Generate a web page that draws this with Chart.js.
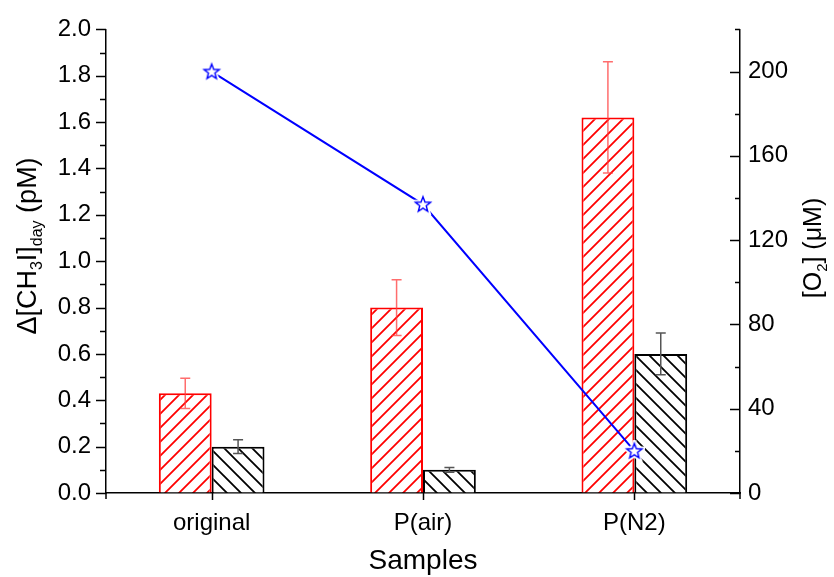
<!DOCTYPE html>
<html>
<head>
<meta charset="utf-8">
<script src="https://cdn.jsdelivr.net/npm/chart.js@4/dist/chart.umd.min.js"></script>
<style>
    html, body { margin: 0; padding: 0; background: #fff; }
    #wrap { width: 834px; height: 577px; position: relative; }
</style>
</head>
<body>
<div id="wrap"><canvas id="chart"></canvas></div>
<script>
// Data
const samples = ['original', 'P(air)', 'P(N2)'];
const ch3iRed = [0.43, 0.80, 1.62];
const ch3iRedErr = [0.065, 0.12, 0.24];
const ch3iBlack = [0.20, 0.10, 0.60];
const ch3iBlackErr = [0.03, 0.01, 0.09];
const o2Values = [200, 137, 20];

const FONT = '"Liberation Sans", Arial, sans-serif';

/**
 * Diagonal hatch pattern for the bars
 */
function makeHatch(color, forward) {
    const size = 14;
    const c = document.createElement('canvas');
    c.width = size;
    c.height = size;
    const g = c.getContext('2d');
    g.fillStyle = '#fff';
    g.fillRect(0, 0, size, size);
    g.strokeStyle = color;
    g.lineWidth = 1.8;
    g.beginPath();
    if (forward) {
        // "/" lines
        g.moveTo(-2, size + 2); g.lineTo(size + 2, -2);
        g.moveTo(-2, 2); g.lineTo(2, -2);
        g.moveTo(size - 2, size + 2); g.lineTo(size + 2, size - 2);
    } else {
        // "\" lines
        g.moveTo(-2, -2); g.lineTo(size + 2, size + 2);
        g.moveTo(size - 2, -2); g.lineTo(size + 2, 2);
        g.moveTo(-2, size - 2); g.lineTo(2, size + 2);
    }
    g.stroke();
    return g.createPattern(c, 'repeat');
}

/**
 * Hollow five point star used as point style
 */
function makeStar() {
    const size = 22;
    const c = document.createElement('canvas');
    c.width = size;
    c.height = size;
    const g = c.getContext('2d');
    const cx = size / 2, cy = size / 2 + 0.5;
    const outer = 8, inner = 3.4;
    g.beginPath();
    for (let i = 0; i < 10; i++) {
        const r = i % 2 === 0 ? outer : inner;
        const a = -Math.PI / 2 + i * Math.PI / 5;
        const px = cx + r * Math.cos(a), py = cy + r * Math.sin(a);
        if (i === 0) g.moveTo(px, py); else g.lineTo(px, py);
    }
    g.closePath();
    g.lineJoin = 'miter';
    g.strokeStyle = '#fff';
    g.lineWidth = 5;
    g.stroke();
    g.fillStyle = '#fff';
    g.fill();
    g.strokeStyle = '#0000ff';
    g.lineWidth = 1.4;
    g.stroke();
    return c;
}

// Minor ticks, tick marks, error bars and rotated titles with subscripts
const decorPlugin = {
    id: 'decor',
    afterDatasetsDraw(chart) {
        const ctx = chart.ctx;
        const y = chart.scales.y;
        const errSets = [
            { ds: 0, err: ch3iRedErr, vals: ch3iRed, color: 'rgba(255,60,60,0.75)' },
            { ds: 1, err: ch3iBlackErr, vals: ch3iBlack, color: '#555' }
        ];
        ctx.save();
        ctx.lineWidth = 1.5;
        for (const s of errSets) {
            const meta = chart.getDatasetMeta(s.ds);
            meta.data.forEach((bar, i) => {
                const top = y.getPixelForValue(s.vals[i] + s.err[i]);
                const bot = y.getPixelForValue(s.vals[i] - s.err[i]);
                ctx.strokeStyle = s.color;
                ctx.beginPath();
                ctx.moveTo(bar.x, top); ctx.lineTo(bar.x, bot);
                ctx.moveTo(bar.x - 5, top); ctx.lineTo(bar.x + 5, top);
                ctx.moveTo(bar.x - 5, bot); ctx.lineTo(bar.x + 5, bot);
                ctx.stroke();
            });
        }
        ctx.restore();
    },
    afterDraw(chart) {
        const ctx = chart.ctx;
        const { x, y, y2 } = chart.scales;
        const area = chart.chartArea;
        ctx.save();
        ctx.strokeStyle = '#000';
        ctx.lineWidth = 1.5;
        ctx.beginPath();
        // left axis: major outward 10px, minor 6px
        for (let v = 0; v <= 2.0001; v += 0.1) {
            const py = Math.round(y.getPixelForValue(v)) + 0.5;
            const major = Math.round(v * 10) % 2 === 0;
            ctx.moveTo(area.left - (major ? 10 : 6), py);
            ctx.lineTo(area.left, py);
        }
        // right axis: ticks point inward
        for (let v = 0; v <= 220; v += 20) {
            const py = Math.round(y2.getPixelForValue(v)) + 0.5;
            const major = v % 40 === 0;
            ctx.moveTo(area.right - (major ? 10 : 5), py);
            ctx.lineTo(area.right, py);
        }
        // bottom axis ticks at the category centres
        samples.forEach((s, i) => {
            const px = Math.round(x.getPixelForValue(i)) + 0.5;
            ctx.moveTo(px, area.bottom);
            ctx.lineTo(px, area.bottom + 7);
        });
        // axis lines run a little below the x axis
        ctx.moveTo(area.left, area.bottom);
        ctx.lineTo(area.left, area.bottom + 6);
        ctx.moveTo(area.right, area.bottom);
        ctx.lineTo(area.right, area.bottom + 6);
        ctx.stroke();

        // titles
        ctx.fillStyle = '#000';
        ctx.textBaseline = 'alphabetic';
        const drawRich = (parts, cx, baseline, big, small) => {
            let total = 0;
            for (const p of parts) {
                ctx.font = `${p.sub ? small : big}px ${FONT}`;
                total += ctx.measureText(p.t).width;
            }
            ctx.save();
            ctx.translate(cx, baseline);
            ctx.rotate(-Math.PI / 2);
            let pos = -total / 2;
            for (const p of parts) {
                ctx.font = `${p.sub ? small : big}px ${FONT}`;
                ctx.fillText(p.t, pos, p.sub ? 6 : 0);
                pos += ctx.measureText(p.t).width;
            }
            ctx.restore();
        };
        drawRich([
            { t: 'Δ[CH' }, { t: '3', sub: true }, { t: 'I]' },
            { t: 'day', sub: true }, { t: ' (pM)' }
        ], 36, 246, 27, 16);
        drawRich([
            { t: '[O' }, { t: '2', sub: true }, { t: '] (μM)' }
        ], 821, 248, 25, 15);
        ctx.font = `28px ${FONT}`;
        ctx.textAlign = 'center';
        ctx.fillText('Samples', (area.left + area.right) / 2, 569);
        ctx.restore();
    }
};

const ctx = document.getElementById('chart').getContext('2d');

new Chart(ctx, {
    data: {
        labels: samples,
        datasets: [
            {
                type: 'bar',
                label: 'red',
                data: ch3iRed,
                yAxisID: 'y',
                backgroundColor: makeHatch('#ff0000', true),
                borderColor: '#ff0000',
                borderWidth: 2,
                categoryPercentage: 0.5,
                barPercentage: 1.0,
                order: 2
            },
            {
                type: 'bar',
                label: 'black',
                data: ch3iBlack,
                yAxisID: 'y',
                backgroundColor: makeHatch('#000000', false),
                borderColor: '#000000',
                borderWidth: 2,
                categoryPercentage: 0.5,
                barPercentage: 1.0,
                order: 2
            },
            {
                type: 'line',
                label: 'O2',
                data: o2Values,
                yAxisID: 'y2',
                borderColor: '#0000ff',
                borderWidth: 2,
                pointStyle: makeStar(),
                tension: 0,
                fill: false,
                order: 0
            }
        ]
    },
    options: {
        responsive: true,
        maintainAspectRatio: false,
        animation: false,
        devicePixelRatio: 1,
        layout: { padding: { top: 25, left: 0, right: 0, bottom: 0 } },
        plugins: {
            legend: { display: false },
            tooltip: { enabled: false }
        },
        scales: {
            x: {
                type: 'category',
                offset: true,
                grid: { display: false, drawTicks: false },
                border: { display: true, color: '#000', width: 1.5 },
                ticks: {
                    color: '#000',
                    padding: 16,
                    font: { family: FONT, size: 24 }
                },
                afterFit: (s) => { s.height = 84; }
            },
            y: {
                position: 'left',
                min: 0,
                max: 2.0,
                grid: { display: true, drawOnChartArea: false, drawTicks: false },
                border: { display: true, color: '#000', width: 1.5 },
                ticks: {
                    stepSize: 0.2,
                    color: '#000',
                    padding: 15,
                    font: { family: FONT, size: 24 },
                    callback: (v) => v.toFixed(1)
                },
                afterFit: (s) => { s.width = 106; }
            },
            y2: {
                position: 'right',
                min: 0,
                max: 220,
                grid: { display: true, drawOnChartArea: false, drawTicks: false },
                border: { display: true, color: '#000', width: 1.5 },
                ticks: {
                    stepSize: 40,
                    color: '#000',
                    padding: 8,
                    font: { family: FONT, size: 24 },
                    callback: (v) => (v % 40 === 0 ? String(v) : '')
                },
                afterFit: (s) => { s.width = 94; }
            }
        }
    },
    plugins: [decorPlugin]
});
</script>
</body>
</html>
